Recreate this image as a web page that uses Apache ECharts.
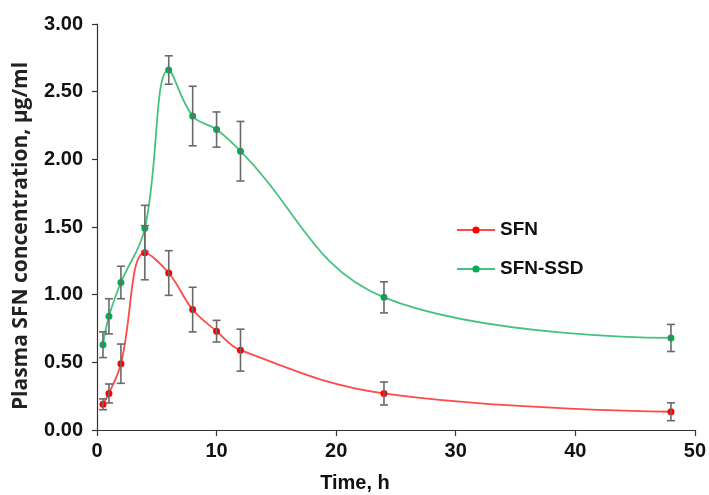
<!DOCTYPE html>
<html>
<head>
<meta charset="utf-8">
<script src="https://cdn.jsdelivr.net/npm/echarts@6/dist/echarts.min.js"></script>
<style>html,body{margin:0;padding:0;background:#fff}#c{width:709px;height:495px}</style>
</head>
<body>
<div id="c"></div>
<script>
const times = [0.5, 1, 2, 4, 6, 8, 10, 12, 24, 48];
const sfnMean = [0.19, 0.27, 0.49, 1.31, 1.16, 0.89, 0.73, 0.59, 0.27, 0.135];
const sfnErr = [0.04, 0.07, 0.145, 0.2, 0.165, 0.165, 0.08, 0.155, 0.085, 0.066];
const ssdMean = [0.63, 0.84, 1.09, 1.49, 2.66, 2.32, 2.22, 2.06, 0.98, 0.68];
const ssdErr = [0.095, 0.13, 0.12, 0.17, 0.105, 0.22, 0.13, 0.22, 0.115, 0.1];
const xTicks = [0, 10, 20, 30, 40, 50];
const yTicks = [0, 0.5, 1, 1.5, 2, 2.5, 3];
const seriesNames = ['SFN', 'SFN-SSD'];

const chart = echarts.init(document.getElementById('c'));

function pairs(m) { return times.map((t, i) => [t, m[i]]); }
function errData(m, e) { return times.map((t, i) => [t, m[i] - e[i], m[i] + e[i]]); }

function errRender(params, api) {
  const x = api.value(0);
  const lo = api.coord([x, api.value(1)]);
  const hi = api.coord([x, api.value(2)]);
  const hw = 4;
  const st = { stroke: '#6a6a6a', lineWidth: 1.6 };
  return {
    type: 'group',
    children: [
      { type: 'line', shape: { x1: lo[0], y1: lo[1], x2: hi[0], y2: hi[1] }, style: st },
      { type: 'line', shape: { x1: lo[0] - hw, y1: lo[1], x2: lo[0] + hw, y2: lo[1] }, style: st },
      { type: 'line', shape: { x1: hi[0] - hw, y1: hi[1], x2: hi[0] + hw, y2: hi[1] }, style: st }
    ]
  };
}

const labelFont = { fontFamily: 'Liberation Sans', fontWeight: 'bold', fontSize: 20, color: '#111' };

chart.setOption({
  animation: false,
  grid: { left: 97, right: 12, top: 24, bottom: 65 },
  legend: {
    orient: 'vertical',
    left: 451, top: 215,
    itemWidth: 38, itemHeight: 9, itemGap: 19,
    data: seriesNames,
    textStyle: { fontFamily: 'Liberation Sans', fontWeight: 'bold', fontSize: 19, color: '#111', lineHeight: 20 }
  },
  xAxis: {
    type: 'value', min: xTicks[0], max: xTicks[xTicks.length - 1], interval: 10,
    axisLine: { lineStyle: { color: '#333', width: 1.2 } },
    axisTick: { show: true, length: 6, lineStyle: { color: '#333', width: 1.2 } },
    axisLabel: Object.assign({ margin: 11 }, labelFont),
    splitLine: { show: false }
  },
  yAxis: {
    type: 'value', min: yTicks[0], max: yTicks[yTicks.length - 1], interval: 0.5,
    axisLine: { show: true, lineStyle: { color: '#333', width: 1.2 } },
    axisTick: { show: true, length: 5, lineStyle: { color: '#333', width: 1.2 } },
    axisLabel: Object.assign({ margin: 14, formatter: v => v.toFixed(2) }, labelFont),
    splitLine: { show: false }
  },
  graphic: [
    { type: 'text', x: 21, y: 236, rotation: Math.PI / 2,
      style: { text: 'Plasma SFN concentration, µg/ml', align: 'center', verticalAlign: 'middle',
        fontFamily: 'Open Sans', fontWeight: 'bold', fontSize: 21, fill: '#222' } },
    { type: 'text', x: 355, y: 483,
      style: { text: 'Time, h', align: 'center', verticalAlign: 'middle',
        fontFamily: 'Liberation Sans', fontWeight: 'bold', fontSize: 20, fill: '#111' } }
  ],
  series: [
    { name: seriesNames[0], type: 'line', data: pairs(sfnMean), smooth: 0.4,
      symbol: 'circle', symbolSize: 7, z: 3,
      lineStyle: { color: '#ff4a4a', width: 1.8 }, itemStyle: { color: '#ff0000' } },
    { name: seriesNames[1], type: 'line', data: pairs(ssdMean), smooth: 0.4,
      symbol: 'circle', symbolSize: 7, z: 3,
      lineStyle: { color: '#45c27e', width: 1.8 }, itemStyle: { color: '#00b050' } },
    { type: 'custom', renderItem: errRender, data: errData(sfnMean, sfnErr), z: 4, encode: { x: 0, y: [1, 2] } },
    { type: 'custom', renderItem: errRender, data: errData(ssdMean, ssdErr), z: 4, encode: { x: 0, y: [1, 2] } }
  ]
});
</script>
</body>
</html>
